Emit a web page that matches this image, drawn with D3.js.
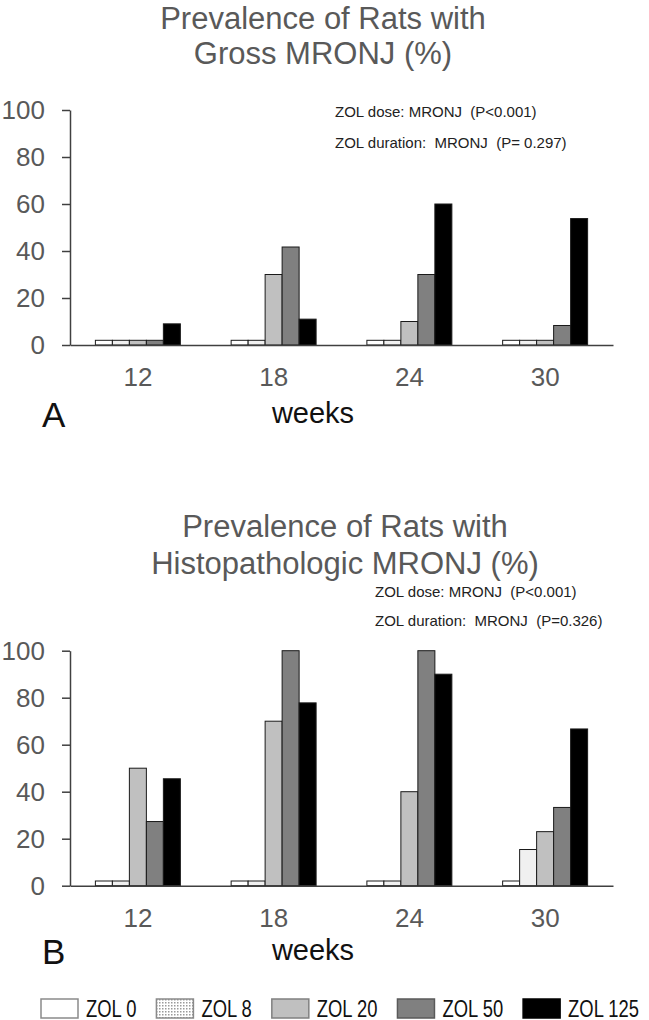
<!DOCTYPE html>
<html>
<head>
<meta charset="utf-8">
<script src="https://cdn.jsdelivr.net/npm/d3@7.9.0/dist/d3.min.js"></script>
<style>
  html, body { margin: 0; padding: 0; background: #fff; }
  svg { display: block; font-family: "Liberation Sans", Arial, sans-serif; }
</style>
</head>
<body>
<svg id="chart" width="649" height="1020"></svg>
<script>
const weeks = ['12', '18', '24', '30'];
const doses = ['ZOL 0', 'ZOL 8', 'ZOL 20', 'ZOL 50', 'ZOL 125'];

// prevalence (%), one row per week, one value per dose
const grossValues = [
  [2, 2, 2, 2, 9],
  [2, 2, 30, 41.7, 11],
  [2, 2, 10, 30, 60],
  [2, 2, 2, 8.3, 53.8],
];
const histoValues = [
  [2, 2, 50, 27.3, 45.5],
  [2, 2, 70, 100, 77.8],
  [2, 2, 40, 100, 90],
  [2, 15.4, 23, 33.3, 66.7],
];
const yTicks = [0, 20, 40, 60, 80, 100];

const grossTitle = ['Prevalence of Rats with', 'Gross MRONJ (%)'];
const histoTitle = ['Prevalence of Rats with', 'Histopathologic MRONJ (%)'];
const grossNotes = ['ZOL dose: MRONJ  (P<0.001)', 'ZOL duration:  MRONJ  (P= 0.297)'];
const histoNotes = ['ZOL dose: MRONJ  (P<0.001)', 'ZOL duration:  MRONJ  (P=0.326)'];

const barFill = ['#ffffff', '#f0f0f0', '#c0c0c0', '#808080', '#000000'];
const legendFill = ['#ffffff', 'url(#dots)', '#c0c0c0', '#808080', '#000000'];
const legendStroke = ['#8a8a8a', '#8a8a8a', '#808080', '#5a5a5a', '#000000'];

const svg = d3.select('#chart');

// dotted fill for ZOL 8 in the legend
const pat = svg.append('defs').append('pattern')
  .attr('id', 'dots')
  .attr('width', 3)
  .attr('height', 3)
  .attr('patternUnits', 'userSpaceOnUse');
pat.append('rect').attr('width', 3).attr('height', 3).attr('fill', '#fff');
pat.append('rect').attr('width', 1.5).attr('height', 1.5).attr('fill', '#9a9a9a');

const x = d3.scaleBand()
  .domain(weeks)
  .range([70, 613])
  .paddingInner(0.374)
  .paddingOuter(0.187);

const xInner = d3.scaleBand()
  .domain(doses)
  .range([0, x.bandwidth()]);

const panels = [
  { values: grossValues, title: grossTitle, notes: grossNotes, letter: 'A',
    y0: 345, y100: 110, titleX: 323, titleY: [29, 64], notesX: 335, notesY: [117, 148],
    letterY: 427, weeksY: 423 },
  { values: histoValues, title: histoTitle, notes: histoNotes, letter: 'B',
    y0: 885.7, y100: 650.7, titleX: 345, titleY: [537, 574], notesX: 375, notesY: [597, 626],
    letterY: 964, weeksY: 960 },
];

function drawPanel(p) {
  const g = svg.append('g');
  const y = d3.scaleLinear().domain([0, 100]).range([p.y0, p.y100]);

  g.selectAll('text.title')
    .data(p.title)
    .join('text')
    .attr('class', 'title')
    .attr('x', p.titleX)
    .attr('y', (d, i) => p.titleY[i])
    .attr('text-anchor', 'middle')
    .attr('font-size', 31)
    .attr('fill', '#595959')
    .text(d => d);

  g.selectAll('text.note')
    .data(p.notes)
    .join('text')
    .attr('class', 'note')
    .attr('x', p.notesX)
    .attr('y', (d, i) => p.notesY[i])
    .attr('font-size', 15)
    .attr('fill', '#222')
    .style('white-space', 'pre')
    .text(d => d);

  // bars
  const groups = g.selectAll('g.week')
    .data(weeks)
    .join('g')
    .attr('class', 'week')
    .attr('transform', d => `translate(${x(d)},0)`);

  groups.selectAll('rect')
    .data((w, wi) => p.values[wi].map((v, di) => ({ dose: doses[di], i: di, v })))
    .join('rect')
    .attr('x', d => xInner(d.dose))
    .attr('width', xInner.bandwidth())
    .attr('y', d => y(d.v))
    .attr('height', d => y(0) - y(d.v))
    .attr('fill', d => barFill[d.i])
    .attr('stroke', '#1a1a1a')
    .attr('stroke-width', 1);

  // y axis
  const yAxis = g.append('g')
    .attr('transform', 'translate(70,0)')
    .call(d3.axisLeft(y).tickValues(yTicks).tickSize(8).tickSizeOuter(0).tickPadding(17));
  yAxis.select('.domain').attr('stroke', '#404040').attr('stroke-width', 1.5);
  yAxis.selectAll('.tick line').attr('stroke', '#404040').attr('stroke-width', 1.5);
  yAxis.selectAll('.tick text')
    .attr('font-size', 26)
    .attr('font-family', '"Liberation Sans", Arial, sans-serif')
    .attr('fill', '#595959');

  // x axis
  const xAxis = g.append('g')
    .attr('transform', `translate(0,${p.y0})`)
    .call(d3.axisBottom(x).tickSize(0).tickSizeOuter(0).tickPadding(23));
  xAxis.select('.domain').attr('stroke', '#404040').attr('stroke-width', 1.5);
  xAxis.selectAll('.tick text')
    .attr('font-size', 26)
    .attr('font-family', '"Liberation Sans", Arial, sans-serif')
    .attr('fill', '#595959');

  g.append('text')
    .attr('x', 313)
    .attr('y', p.weeksY)
    .attr('text-anchor', 'middle')
    .attr('font-size', 29)
    .attr('fill', '#111')
    .text('weeks');

  g.append('text')
    .attr('x', 42)
    .attr('y', p.letterY)
    .attr('font-size', 35)
    .attr('fill', '#111')
    .text(p.letter);
}

panels.forEach(drawPanel);

// legend
const legend = svg.append('g').attr('class', 'legend');
let lx = 41;
doses.forEach((d, i) => {
  legend.append('rect')
    .attr('x', lx)
    .attr('y', 999)
    .attr('width', 37)
    .attr('height', 19)
    .attr('fill', legendFill[i])
    .attr('stroke', legendStroke[i])
    .attr('stroke-width', 1.5);
  const t = legend.append('text')
    .attr('transform', `translate(${lx + 45},1017) scale(0.8,1)`)
    .attr('font-size', 23)
    .attr('fill', '#111')
    .text(d);
  lx += 37 + 8 + t.node().getComputedTextLength() * 0.8 + 20;
});
</script>
</body>
</html>
